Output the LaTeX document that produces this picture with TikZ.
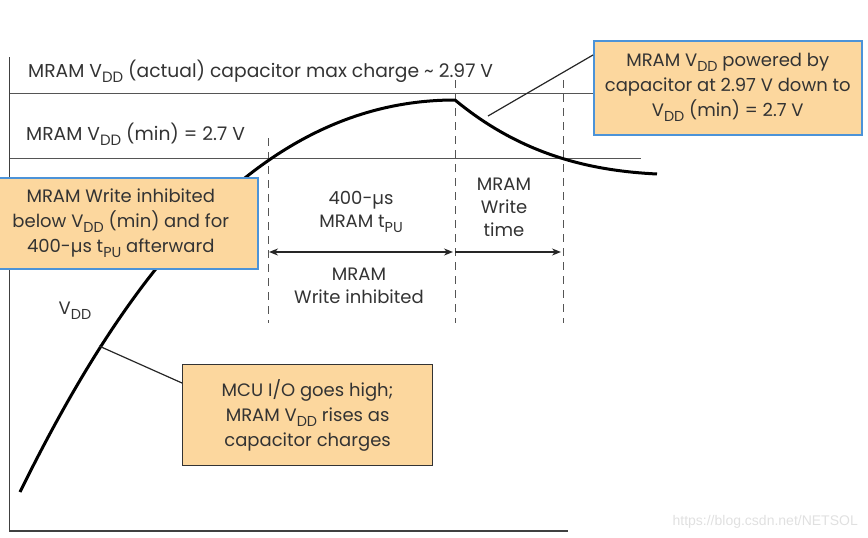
\documentclass[tikz,border=0pt]{standalone}
\usepackage{fontspec}
\usepackage{graphicx}
\setmainfont{Poppins}
\newfontfamily\wmfont{Liberation Sans}
\usetikzlibrary{arrows.meta}
\definecolor{boxfill}{HTML}{FCD79E}
\definecolor{boxblue}{HTML}{4C93D8}
\definecolor{txt}{HTML}{333333}
\definecolor{refline}{HTML}{555555}
\newcommand\sbs[1]{\raisebox{-0.5ex}{\scalebox{0.8}{#1}}}
\begin{document}
\begin{tikzpicture}[x=1pt,y=-1pt,
  lbl/.style={font=\fontsize{18.7}{22}\selectfont, text=txt, inner sep=0pt},
  midtxt/.style={font=\fontsize{18}{23}\selectfont, text=txt, align=center, inner sep=0pt},
  bluebox/.style={draw=boxblue, line width=1.5pt, fill=boxfill, text=txt, align=center,
     font=\fontsize{18}{25}\selectfont, inner sep=0pt},
  darkbox/.style={draw=black!80, line width=1.2pt, fill=boxfill, text=txt, align=center,
     font=\fontsize{18}{25}\selectfont, inner sep=0pt},
  axisline/.style={draw=black!75, line width=1.5pt},
  levelline/.style={draw=refline, line width=1pt},
  dashline/.style={draw=refline, line width=1pt, dash pattern=on 8pt off 6pt},
  vddcurve/.style={draw=black, line width=3pt, line join=round},
  pointer/.style={draw=black!85, line width=1.2pt},
  span/.style={draw=black!85, line width=1.5pt, -{Stealth[length=9pt,width=7pt]}},
  spanboth/.style={draw=black!85, line width=1.5pt, {Stealth[length=9pt,width=7pt]}-{Stealth[length=9pt,width=7pt]}}
]
\useasboundingbox (0,0) rectangle (868,538);

% axes
\coordinate (ytop) at (9.5,57);
\coordinate (origin) at (9.5,531);
\coordinate (xend) at (568,531);
\draw[axisline] (ytop) -- (origin) -- (xend);

% level lines
\coordinate (maxL) at (9.5,93);
\coordinate (maxR) at (593,93);
\coordinate (minL) at (9.5,158);
\coordinate (minR) at (641,158);
\draw[levelline] (maxL) -- (maxR);
\draw[levelline] (minL) -- (minR);

\node[lbl, anchor=base west] (lblmax) at (28,77) {MRAM V\sbs{DD} (actual) capacitor max charge \textasciitilde{} 2.97 V};
\node[lbl, anchor=base west] (lblmin) at (26,140) {MRAM V\sbs{DD} (min) = 2.7 V};

% dashed time markers
\coordinate (d1t) at (268,138); \coordinate (d1b) at (268,323);
\coordinate (d2t) at (455,80);  \coordinate (d2b) at (455,323);
\coordinate (d3t) at (563,80);  \coordinate (d3b) at (563,323);
\draw[dashline] (d1t) -- (d1b);
\draw[dashline] (d2t) -- (d2b);
\draw[dashline] (d3t) -- (d3b);

% VDD curve: charging then capacitor discharge
\coordinate (cstart) at (20,492);
\coordinate (cpeak) at (455,100);
\coordinate (cend) at (657,174);
\draw[vddcurve] (cstart) .. controls (123,283) and (255,100) .. (cpeak)
                         .. controls (525,158) and (597,171) .. (cend);

\node[lbl, font=\fontsize{18}{22}\selectfont] (vdd) at (75,311) {V\sbs{DD}};

% spans
\coordinate (a1l) at (269,252); \coordinate (a1r) at (453,252);
\coordinate (a2l) at (455,252); \coordinate (a2r) at (561,252);
\draw[spanboth] (a1l) -- (a1r);
\draw[span] (a2l) -- (a2r);

\node[midtxt] (tpu) at (361,212) {400-µs\\MRAM t\sbs{PU}};
\node[midtxt] (inh) at (359,286) {MRAM\\Write inhibited};
\node[midtxt] (wtime) at (504,207) {MRAM\\Write\\time};

% callouts
\node[bluebox, minimum width=274pt, minimum height=91pt, anchor=north west] (boxL) at (-17,177)
  {MRAM Write inhibited\\below V\sbs{DD} (min) and for\\400-µs t\sbs{PU} afterward};

\node[bluebox, minimum width=268pt, minimum height=94pt, anchor=north west] (boxR) at (593,40)
  {MRAM V\sbs{DD} powered by\\capacitor at 2.97 V down to\\V\sbs{DD} (min) = 2.7 V};

\node[darkbox, minimum width=250pt, minimum height=101pt, anchor=north west] (boxB) at (182,364)
  {MCU I/O goes high;\\MRAM V\sbs{DD} rises as\\capacitor charges};

\coordinate (pB) at (99,346);
\draw[pointer] (pB) -- (boxB.west |- 0,383);
\coordinate (pR) at (488,116);
\draw[pointer] (pR) -- (boxR.west |- 0,55);

\node[font=\wmfont\fontsize{14}{16}\selectfont, text=black!12, anchor=base east, inner sep=0pt] (wm) at (858,525) {https://blog.csdn.net/NETSOL};
\end{tikzpicture}
\end{document}
